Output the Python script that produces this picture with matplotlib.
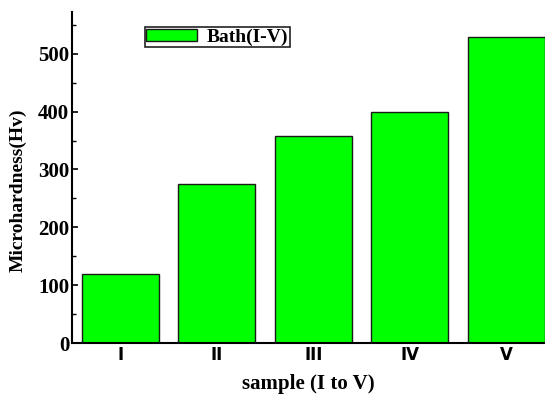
import numpy as np
from matplotlib import pyplot as plt

# sample names and measured microhardness values
samples = ['I', 'II', 'III', 'IV', 'V']
hardness = [119, 275, 358, 400, 529]

fig = plt.figure(figsize=(5.45, 3.94), dpi=100)
ax = fig.add_axes([0.132, 0.129, 0.868, 0.8405])

x_pos = np.arange(len(samples))
ax.bar(x_pos, hardness, width=0.8, color='#00ff00', edgecolor='#1a1a1a',
       linewidth=1.0, label='Bath(I-V)')

ax.set_xlim(-0.5, 4.4)
ax.set_ylim(0, 572)

# only left and bottom axis lines
ax.spines['top'].set_visible(False)
ax.spines['right'].set_visible(False)
ax.spines['left'].set_linewidth(1.5)
ax.spines['bottom'].set_linewidth(1.5)

ax.set_xticks(x_pos)
ax.set_xticklabels(samples, family='DejaVu Sans', fontweight='bold', fontsize=12)
ax.tick_params(axis='x', length=0, pad=2)

ax.set_yticks([0, 100, 200, 300, 400, 500])
ax.set_yticks(np.arange(50, 572, 100), minor=True)
ax.tick_params(axis='y', which='major', direction='in', length=4, width=1.2,
               labelsize=15, pad=2)
ax.tick_params(axis='y', which='minor', direction='in', length=3, width=1.0)
for lbl in ax.get_yticklabels():
    lbl.set_family('Liberation Serif')
    lbl.set_fontweight('bold')

ax.set_ylabel('Microhardness(Hv)', family='Liberation Serif', fontweight='bold',
              fontsize=14)
ax.yaxis.set_label_coords(-0.095, 0.462)
ax.set_xlabel('sample (I to V)', family='Liberation Serif', fontweight='bold',
              fontsize=15, labelpad=7)

leg = ax.legend(loc='upper left', bbox_to_anchor=(0.154, 0.955),
                prop={'family': 'Liberation Serif', 'weight': 'bold', 'size': 14},
                fancybox=False, framealpha=1, edgecolor='#222222',
                borderpad=0.08, handlelength=2.6, handleheight=0.55,
                handletextpad=0.5, borderaxespad=0)
leg.get_frame().set_linewidth(1.2)

plt.savefig('out.png', dpi=100)
